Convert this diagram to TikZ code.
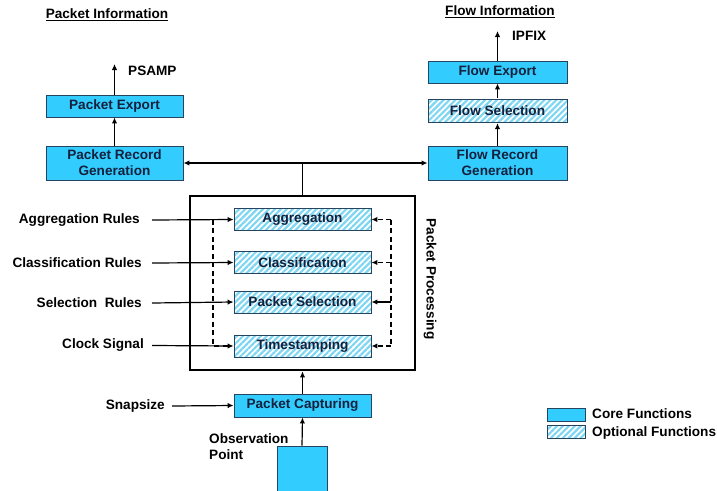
\documentclass[tikz,border=0pt]{standalone}
\usepackage{fontspec}
\setmainfont{Liberation Sans}
\usetikzlibrary{arrows.meta,patterns.meta}
\definecolor{corefill}{HTML}{33CCFF}
\definecolor{hatchline}{HTML}{7FD6F2}
\definecolor{boxborder}{HTML}{25445F}
\definecolor{boxtext}{HTML}{14213D}
\begin{document}
\begin{tikzpicture}[x=1pt,y=-1pt,
  every node/.style={font=\fontsize{13.6}{16}\selectfont\bfseries},
  corebox/.style={draw=boxborder, line width=0.9pt, fill=corefill, minimum width=137pt, minimum height=22pt, inner sep=0pt, text=boxtext, align=center},
  optbox/.style={draw=boxborder, line width=0.9pt, preaction={fill=white}, pattern={Lines[angle=45,distance=4.2pt,line width=2.2pt]}, pattern color=hatchline, minimum width=137pt, minimum height=22pt, inner sep=0pt, text=boxtext, align=center},
  conn/.style={line width=1.2pt, -{Latex[length=6pt,width=5.5pt]}},
  dconn/.style={line width=1.2pt, dash pattern=on 5pt off 3.5pt, -{Latex[length=6pt,width=5.5pt]}},
  dline/.style={line width=1.2pt, dash pattern=on 5pt off 3.5pt},
  plain/.style={line width=1.2pt},
  lbl/.style={inner sep=0pt}
]
\useasboundingbox (0,0) rectangle (717,490);

% headers
\node[lbl] (pinfo) at (107,15) {\underline{Packet Information}};
\node[lbl] (finfo) at (500,12) {\underline{Flow Information}};

% left column
\node[corebox] (pexp) at (114.5,106) {Packet Export};
\node[corebox, minimum height=34pt] (prg) at (114.5,163) {Packet Record\\Generation};
\coordinate (psampend) at (114.5,64);
\node[lbl, anchor=west] (psamp) at (128,71) {PSAMP};

% right column
\node[corebox, minimum width=139pt] (fexp) at (497.5,72) {Flow Export};
\node[optbox, minimum width=139pt, minimum height=23pt] (fsel) at (497.5,110.5) {Flow Selection};
\node[corebox, minimum width=139pt, minimum height=34pt] (frg) at (497.5,163) {Flow Record\\Generation};
\coordinate (ipfixend) at (497.5,31);
\node[lbl, anchor=west] (ipfix) at (512,36) {IPFIX};

% packet processing
\node[draw, line width=2.8pt, minimum width=225pt, minimum height=174pt, inner sep=0pt] (pp) at (302.5,283) {};
\node[lbl, rotate=-90] (pplabel) at (430,279) {Packet Processing};
\coordinate (junc) at (302.5,163);

\node[optbox] (agg) at (302.5,219.5) {Aggregation};
\node[optbox] (cls) at (302.5,262.5) {Classification};
\node[optbox] (psel) at (302.5,302) {Packet Selection};
\node[optbox] (ts) at (302.5,346) {Timestamping};

\node[corebox, minimum height=23pt] (pcap) at (302.5,405.5) {Packet Capturing};
\node[draw=boxborder, line width=0.9pt, fill=corefill, minimum width=50pt, minimum height=46pt, inner sep=0pt] (obs) at (302,469) {};
\node[lbl, anchor=west, align=left] (obslbl) at (209,447) {Observation\\Point};

% input labels
\node[lbl, anchor=east] (aggr) at (140,220) {Aggregation Rules};
\node[lbl, anchor=east] (clsr) at (142,263) {Classification Rules};
\node[lbl, anchor=east] (selr) at (142,303) {Selection~~Rules};
\node[lbl, anchor=east] (clk) at (144,345.5) {Clock Signal};
\node[lbl, anchor=east] (snap) at (165,406) {Snapsize};

% connectors
\draw[conn] (pexp.north) -- (psampend);
\draw[conn] (prg.north) -- (pexp.south);
\draw[conn] (fexp.north) -- (ipfixend);
\draw[conn] (fsel.north) -- (fexp.south);
\draw[conn] (frg.north) -- (fsel.south);
\draw[line width=1.2pt, {Latex[length=6pt,width=5.5pt]}-{Latex[length=6pt,width=5.5pt]}] (prg.east) -- (frg.west);
\draw[plain] (junc) -- (pp.north);

\draw[conn] ([xshift=12pt]aggr.east) -- (agg.west);
\draw[conn] ([xshift=10pt]clsr.east) -- (cls.west);
\draw[conn] ([xshift=10pt]selr.east) -- (psel.west);
\draw[conn] ([xshift=8pt]clk.east) -- (ts.west);
\draw[conn] ([xshift=7pt]snap.east) -- (pcap.west);
\draw[conn] (pcap.north) -- (pp.south);
\draw[conn] (obs.north) -- (pcap.south);

% dashed feedback loops
\coordinate (dlt) at (213,219.5);
\coordinate (dlb) at (213,346);
\coordinate (drt) at (391,219.5);
\coordinate (drc) at (391,262.5);
\coordinate (drs) at (391,302);
\coordinate (drb) at (391,346);
\draw[dline] (dlt) -- (dlb) -- ([xshift=-6pt]ts.west);
\draw[dline] (drt) -- (drb);
\draw[dconn] (drt) -- (agg.east);
\draw[dconn] (drc) -- (cls.east);
\draw[conn] (drs) -- (psel.east);
\draw[dconn] (drb) -- (ts.east);

% legend
\node[draw=boxborder, line width=0.9pt, fill=corefill, minimum width=38pt, minimum height=13pt, inner sep=0pt] (lcore) at (566,414.5) {};
\node[draw=boxborder, line width=0.9pt, preaction={fill=white}, pattern={Lines[angle=45,distance=4.2pt,line width=2.2pt]}, pattern color=hatchline, minimum width=38pt, minimum height=13pt, inner sep=0pt] (lopt) at (566,431.5) {};
\node[lbl, anchor=west] (lcoret) at (592,414) {Core Functions};
\node[lbl, anchor=west] (loptt) at (592,433) {Optional Functions};
\end{tikzpicture}
\end{document}
